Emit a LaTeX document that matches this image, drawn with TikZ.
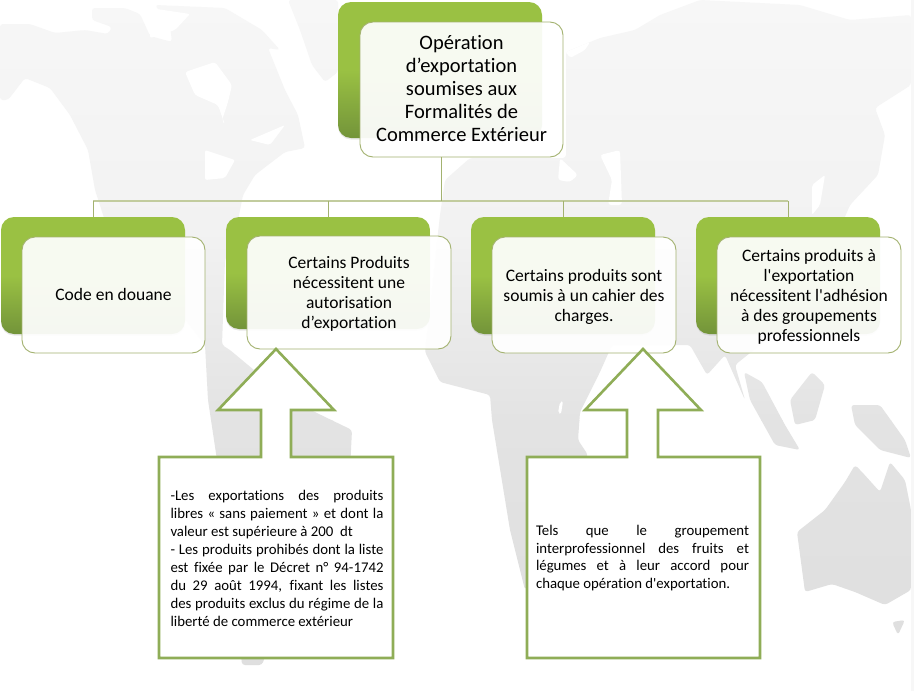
\documentclass[tikz,border=0pt]{standalone}
\usepackage{fontspec}
\setmainfont[Ligatures={TeXOff,NoCommon}]{Carlito}
\usepackage{tikz}
\usetikzlibrary{positioning, shadows}
\definecolor{leaftop}{HTML}{9AC143}
\definecolor{leafbot}{HTML}{73943A}
\definecolor{edgeol}{HTML}{A3B270}
\definecolor{buscol}{HTML}{C2CC9E}
\definecolor{callcol}{HTML}{8FAD57}
\definecolor{mapA}{HTML}{F7F7F7}
\definecolor{mapB}{HTML}{F2F2F2}
\definecolor{mapC}{HTML}{E3E3E3}
\definecolor{mapD}{HTML}{DEDEDE}
\begin{document}
\begin{tikzpicture}[
        x=1pt, y=-1pt,
        backbox/.style={rectangle, rounded corners=13pt, top color=leaftop, bottom color=leafbot, middle color=leaftop, drop shadow={opacity=0.18, shadow xshift=0pt, shadow yshift=-1.5pt}},
        frontbox/.style={rectangle, draw=edgeol, line width=0.9pt, rounded corners=13pt, fill=white, fill opacity=0.93, inner sep=0pt},
        boxtext/.style={align=center, inner sep=0pt, font=\fontsize{17.5pt}{20pt}\selectfont},
        stem/.style={draw=edgeol, line width=0.9pt},
        busline/.style={draw=buscol, line width=2pt},
        callout/.style={draw=callcol, line width=2.6pt, fill=white, line join=miter},
        calltext/.style={text width=213pt, inner sep=0pt, align=justify, font=\fontsize{14.8pt}{17.9pt}\selectfont}
    ]
        \useasboundingbox (0,0) rectangle (914,691);
        \fill[white] (0,0) rectangle (914,691);
        \begin{scope}
            \clip[rounded corners=3pt]
                (0,24) -- (30,24) -- (55,33) -- (85,30) -- (108,34) -- (112,27) -- (92,20) -- (92,8) -- (125,8) -- (140,14) -- (150,36) -- (172,42) -- (170,25) -- (155,5) -- (225,8) -- (262,30) -- (280,50) -- (268,48) -- (285,90) -- (298,115) -- (305,148) -- (285,152) -- (255,175) -- (243,195) -- (235,235) -- (225,260) -- (222,345) -- (230,350) -- (290,400) -- (352,430) -- (350,470) -- (300,560) -- (262,665) -- (242,665) -- (232,560) -- (208,400) -- (205,345) -- (170,300) -- (108,230) -- (95,190) -- (88,150) -- (70,115) -- (50,88) -- (25,78) -- (8,100) -- (0,100) -- cycle
                (288,0) -- (338,0) -- (338,72) -- (325,82) -- (312,65) -- (300,30) -- cycle
                (566,52) -- (600,38) -- (635,30) -- (660,15) -- (700,0) -- (800,5) -- (850,20) -- (911,15) -- (911,85) -- (875,108) -- (885,135) -- (878,175) -- (850,205) -- (835,240) -- (820,300) -- (760,345) -- (735,365) -- (745,400) -- (725,355) -- (707,375) -- (690,345) -- (612,345) -- (600,372) -- (580,412) -- (578,440) -- (588,455) -- (525,590) -- (510,530) -- (492,420) -- (490,395) -- (440,382) -- (425,352) -- (440,215) -- (445,180) -- (470,158) -- (566,158) -- cycle
                (744,372) -- (762,382) -- (785,425) -- (800,450) -- (775,445) -- (750,400) -- cycle
                (790,400) -- (812,372) -- (825,385) -- (815,420) -- (795,425) -- cycle
                (851,405) -- (880,405) -- (905,440) -- (911,458) -- (880,450) -- (855,425) -- cycle
                (797,532) -- (825,510) -- (845,482) -- (855,465) -- (862,472) -- (880,492) -- (890,462) -- (905,480) -- (911,510) -- (911,590) -- (885,605) -- (855,592) -- (832,584) -- (805,592) -- cycle
                (892,622) -- (905,620) -- (898,635) -- cycle;
            \shade[top color=mapA, bottom color=mapB] (0,0) rectangle (911,230);
            \shade[top color=mapB, bottom color=mapC] (0,230) rectangle (911,420);
            \shade[top color=mapC, bottom color=mapD] (0,420) rectangle (911,691);
        \end{scope}
        \fill[white, rounded corners=3pt] (185,72) -- (215,62) -- (232,85) -- (228,102) -- (222,120) -- (225,125) -- (218,105) -- (195,95) -- cycle;
        \fill[white, rounded corners=2pt] (205,150) -- (235,160) -- (225,178) -- (205,180) -- cycle;
        \fill[white, rounded corners=2pt] (250,140) -- (285,125) -- (270,145) -- cycle;
        \fill[white, rounded corners=3pt] (600,155) -- (620,150) -- (622,205) -- (608,205) -- (612,180) -- cycle;
        \fill[white, rounded corners=3pt] (560,158) -- (578,175) -- (570,182) -- (558,180) -- cycle;
        \fill[white, rounded corners=2pt] (812,185) -- (825,175) -- (820,205) -- (812,215) -- cycle;
        \fill[white, rounded corners=2pt] (560,402) -- (563,401) -- (561,414) -- (558,413) -- cycle;
        \fill[white, rounded corners=2pt] (150,8) -- (190,14) -- (175,30) -- (150,38) -- cycle;
        \fill[white, rounded corners=2pt] (566,52) -- (590,42) -- (585,50) -- (570,58) -- cycle;
        \fill[mapA] (911,0) rectangle (914,691);

        \coordinate (bus) at (441,201);

        \node[backbox, minimum width=204pt, minimum height=136pt] (root back) at (440,70) {};
        \node[backbox, minimum width=184pt, minimum height=117pt] (code back) at (93,275.5) {};
        \node[backbox, minimum width=204pt, minimum height=112pt] (auth back) at (328,273) {};
        \node[backbox, minimum width=184pt, minimum height=117pt] (cahier back) at (563,275.5) {};
        \node[backbox, minimum width=184pt, minimum height=117pt] (adhes back) at (788,275.5) {};

        \node[frontbox, minimum width=203pt, minimum height=135pt] (root) at (461.5,89.5) {};
        \node[frontbox, minimum width=183pt, minimum height=116pt] (code) at (113.5,295) {};
        \node[frontbox, minimum width=204pt, minimum height=113pt] (auth) at (349,292.5) {};
        \node[frontbox, minimum width=184pt, minimum height=116pt] (cahier) at (584,295) {};
        \node[frontbox, minimum width=184pt, minimum height=116pt] (adhes) at (809,295) {};

        \node[boxtext, font=\fontsize{20.5pt}{23pt}\selectfont] (root text) at (461.5,89) {Opération\\d’exportation\\soumises aux\\Formalités de\\Commerce Extérieur};
        \node[boxtext] (code text) at (113.5,294) {Code en douane};
        \node[boxtext] (auth text) at (349,294) {Certains Produits\\nécessitent une\\autorisation\\d’exportation};
        \node[boxtext] (cahier text) at (584,297) {Certains produits sont\\soumis à un cahier des\\charges.};
        \node[boxtext] (adhes text) at (809,296.5) {Certains produits à\\l'exportation\\nécessitent l'adhésion\\à des groupements\\professionnels};

        \draw[busline] (code back.north |- bus) -- (adhes back.north |- bus);
        \draw[stem] (root.south -| bus) -- (bus);
        \foreach \kid in {code back, auth back, cahier back, adhes back}
            \draw[stem] (\kid.north |- bus) -- (\kid.north);

        \draw[callout] (276,349) -- (334,410) -- (291,410) -- (291,457) -- (393,457) -- (393,658) -- (159,658) -- (159,457) -- (261,457) -- (261,410) -- (218,410) -- cycle;
        \draw[callout] (643,349) -- (701,410) -- (658,410) -- (658,457) -- (760,457) -- (760,658) -- (527,658) -- (527,457) -- (627,457) -- (627,410) -- (585,410) -- cycle;

        \node[calltext] (libres) at (277,558.5) {-Les exportations des produits\linebreak libres « sans paiement » et dont la\linebreak valeur est supérieure à 200~ dt\\- Les produits prohibés dont la liste\linebreak est fixée par le Décret n° 94-1742\linebreak du 29 août 1994, fixant les listes\linebreak des produits exclus du régime de la\linebreak liberté de commerce extérieur};
        \node[calltext] (tels) at (642.5,558) {Tels que le groupement\linebreak interprofessionnel des fruits et\linebreak légumes et à leur accord pour\linebreak chaque opération d'exportation.};
    \end{tikzpicture}
\end{document}
